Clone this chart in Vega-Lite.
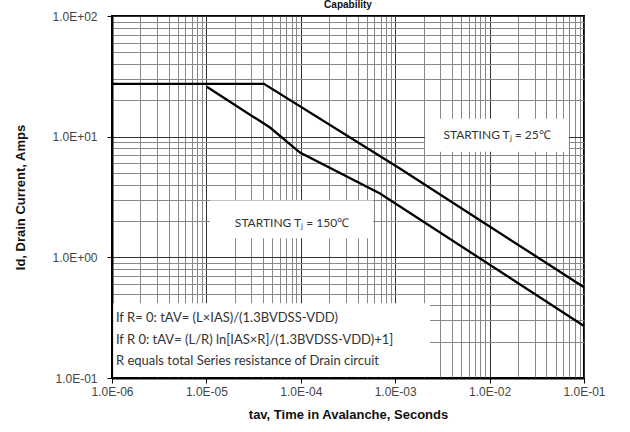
{
  "$schema": "https://vega.github.io/schema/vega-lite/v6.json",
  "width": 472,
  "height": 362,
  "autosize": {"type": "none"},
  "padding": {"left": 112, "top": 16, "right": 46, "bottom": 54},
  "background": "white",
  "title": {"text": "Capability", "fontSize": 10, "font": "Liberation Sans", "fontWeight": "bold", "color": "#111", "anchor": "middle", "offset": 0},
  "config": {
    "view": {"stroke": "black", "strokeWidth": 2},
    "axis": {"labelFont": "Liberation Sans", "labelFontSize": 12, "labelColor": "#444", "titleFont": "Liberation Sans", "titleFontSize": 13, "titleFontWeight": "bold", "titleColor": "#111", "domainColor": "black", "domainWidth": 2, "tickColor": "black"}
  },
  "datasets": {
    "curves": [
      {"t": 0.000001, "id": 27.4, "series": "25C"},
      {"t": 0.0000407, "id": 27.4, "series": "25C"},
      {"t": 0.00112, "id": 5.44, "series": "25C"},
      {"t": 0.1, "id": 0.565, "series": "25C"},
      {"t": 0.0000101, "id": 25.9, "series": "150C"},
      {"t": 0.0000472, "id": 11.9, "series": "150C"},
      {"t": 0.000098, "id": 7.38, "series": "150C"},
      {"t": 0.00069, "id": 3.38, "series": "150C"},
      {"t": 0.1, "id": 0.27, "series": "150C"}
    ],
    "boxes": [
      {"t1": 0.00207, "t2": 0.069, "i1": 7.5, "i2": 14.1},
      {"t1": 0.0000109, "t2": 0.000582, "i1": 1.44, "i2": 2.96},
      {"t1": 0.00000103, "t2": 0.00234, "i1": 0.102, "i2": 0.417}
    ],
    "centerLabels": [
      {"t": 0.012, "id": 10.4, "label": "STARTING Tⱼ = 25℃"},
      {"t": 0.0000807, "id": 1.91, "label": "STARTING Tⱼ = 150℃"}
    ],
    "notes": [
      {"t": 0.0000011, "id": 0.313, "label": "If R= 0: tAV= (L×IAS)/(1.3BVDSS-VDD)"},
      {"t": 0.0000011, "id": 0.206, "label": "If R 0:  tAV= (L/R) ln[IAS×R]/(1.3BVDSS-VDD)+1]"},
      {"t": 0.0000011, "id": 0.138, "label": "R equals total Series resistance of Drain circuit"}
    ]
  },
  "layer": [
    {
      "data": {"name": "boxes"},
      "mark": {"type": "rect", "fill": "white"},
      "encoding": {
        "x": {"field": "t1", "type": "quantitative",
          "scale": {"type": "log", "domain": [0.000001, 0.1], "nice": false},
          "axis": {
            "title": "tav, Time in Avalanche, Seconds",
            "values": [0.000001,0.000002,0.000003,0.000004,0.000005,0.000006,0.000007,0.000008,0.000009,
                       0.00001,0.00002,0.00003,0.00004,0.00005,0.00006,0.00007,0.00008,0.00009,
                       0.0001,0.0002,0.0003,0.0004,0.0005,0.0006,0.0007,0.0008,0.0009,
                       0.001,0.002,0.003,0.004,0.005,0.006,0.007,0.008,0.009,
                       0.01,0.02,0.03,0.04,0.05,0.06,0.07,0.08,0.09,0.1],
            "labelExpr": "abs(log(datum.value)/LN10 - round(log(datum.value)/LN10)) < 0.001 ? '1.0E' + (round(log(datum.value)/LN10) < 0 ? '-' : '+') + (abs(round(log(datum.value)/LN10)) < 10 ? '0' : '') + abs(round(log(datum.value)/LN10)) : ''",
            "labelOverlap": false,
            "labelFlush": false,
            "labelPadding": 3,
            "titlePadding": 11,
            "grid": true,
            "gridColor": {"condition": {"test": "abs(log(datum.value)/LN10 - round(log(datum.value)/LN10)) < 0.001", "value": "#333"}, "value": "#888"},
            "gridWidth": 1,
            "tickSize": 5,
            "tickOpacity": {"condition": {"test": "abs(log(datum.value)/LN10 - round(log(datum.value)/LN10)) < 0.001", "value": 1}, "value": 0}
          }
        },
        "x2": {"field": "t2"},
        "y": {"field": "i1", "type": "quantitative",
          "scale": {"type": "log", "domain": [0.1, 100], "nice": false},
          "axis": {
            "title": "Id, Drain Current, Amps",
            "values": [0.1,0.2,0.3,0.4,0.5,0.6,0.7,0.8,0.9,1,2,3,4,5,6,7,8,9,10,20,30,40,50,60,70,80,90,100],
            "labelExpr": "abs(log(datum.value)/LN10 - round(log(datum.value)/LN10)) < 0.001 ? '1.0E' + (round(log(datum.value)/LN10) < 0 ? '-' : '+') + (abs(round(log(datum.value)/LN10)) < 10 ? '0' : '') + abs(round(log(datum.value)/LN10)) : ''",
            "labelOverlap": false,
            "labelFlush": false,
            "labelPadding": 10,
            "titlePadding": 24,
            "grid": true,
            "gridColor": {"condition": {"test": "abs(log(datum.value)/LN10 - round(log(datum.value)/LN10)) < 0.001", "value": "#333"}, "value": "#888"},
            "gridWidth": 1,
            "tickSize": 5,
            "tickOpacity": {"condition": {"test": "abs(log(datum.value)/LN10 - round(log(datum.value)/LN10)) < 0.001", "value": 1}, "value": 0}
          }
        },
        "y2": {"field": "i2"}
      }
    },
    {
      "data": {"name": "curves"},
      "mark": {"type": "line", "color": "black", "strokeWidth": 2.3},
      "encoding": {
        "x": {"field": "t", "type": "quantitative"},
        "y": {"field": "id", "type": "quantitative"},
        "detail": {"field": "series"}
      }
    },
    {
      "data": {"name": "centerLabels"},
      "mark": {"type": "text", "font": "Lato", "fontSize": 12, "color": "#333", "align": "center", "baseline": "middle"},
      "encoding": {
        "x": {"field": "t", "type": "quantitative"},
        "y": {"field": "id", "type": "quantitative"},
        "text": {"field": "label"}
      }
    },
    {
      "data": {"name": "notes"},
      "mark": {"type": "text", "font": "Lato", "fontSize": 13, "color": "#333", "align": "left", "baseline": "middle"},
      "encoding": {
        "x": {"field": "t", "type": "quantitative"},
        "y": {"field": "id", "type": "quantitative"},
        "text": {"field": "label"}
      }
    }
  ]
}
